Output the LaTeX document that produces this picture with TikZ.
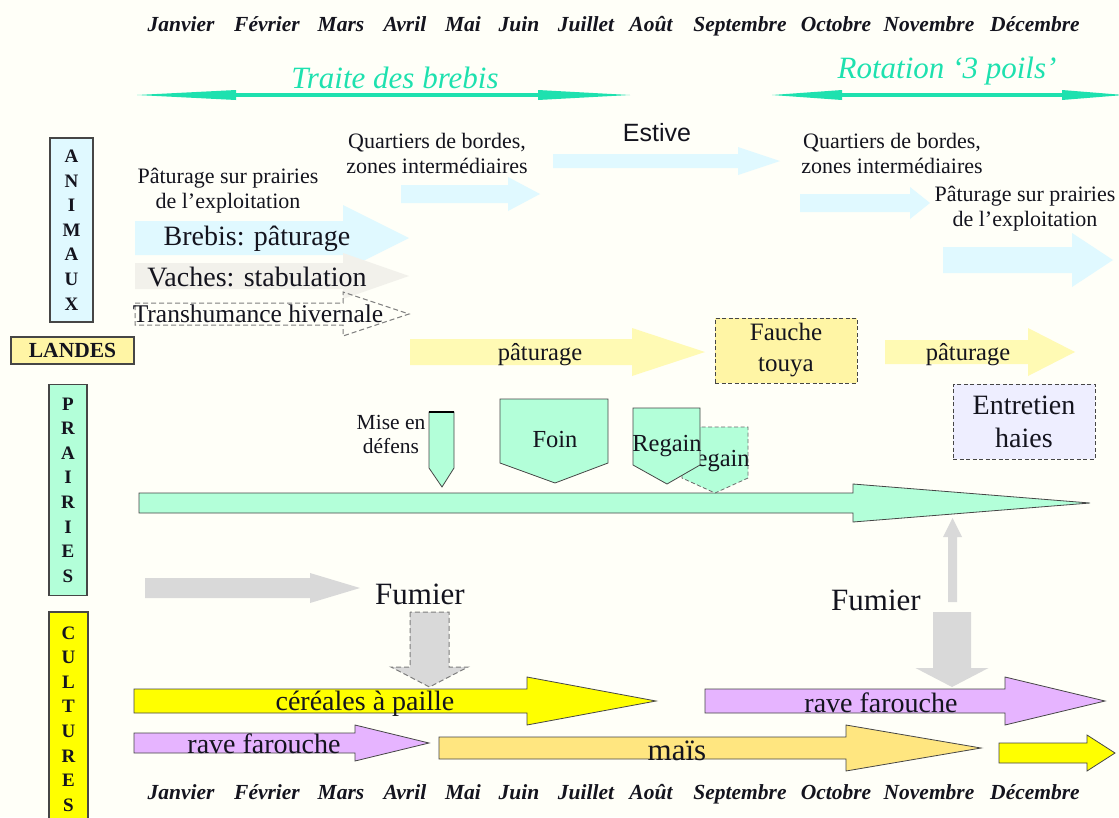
\documentclass[tikz,border=0pt]{standalone}
\usepackage{fontspec}
\setmainfont{Liberation Serif}
\newfontfamily\sansfont{Liberation Sans}
\usetikzlibrary{arrows.meta}

\definecolor{fond}{RGB}{255,255,248}
\definecolor{encre}{RGB}{20,20,30}
\definecolor{turquoise}{RGB}{30,225,175}
\definecolor{cyanpale}{RGB}{224,249,255}
\definecolor{beige}{RGB}{242,241,235}
\definecolor{jaunepale}{RGB}{255,250,180}
\definecolor{jauneboite}{RGB}{255,245,165}
\definecolor{menthe}{RGB}{179,255,217}
\definecolor{lavande}{RGB}{238,238,255}
\definecolor{gris}{RGB}{217,217,217}
\definecolor{jaune}{RGB}{255,255,0}
\definecolor{mauve}{RGB}{230,180,255}
\definecolor{mais}{RGB}{255,230,128}
\definecolor{bord}{RGB}{70,70,70}

% fleche horizontale : style, x depart, x base tete, x pointe, y, demi-corps, demi-tete
\newcommand{\flecheh}[7]{%
  \path[#1] (#2,#5-#6) -- (#3,#5-#6) -- (#3,#5-#7) -- (#4,#5)
    -- (#3,#5+#7) -- (#3,#5+#6) -- (#2,#5+#6) -- cycle;}
% fleche verticale : style, x, y depart, y base tete, y pointe, demi-corps, demi-tete
\newcommand{\flechev}[7]{%
  \path[#1] (#2-#6,#3) -- (#2-#6,#4) -- (#2-#7,#4) -- (#2,#5)
    -- (#2+#7,#4) -- (#2+#6,#4) -- (#2+#6,#3) -- cycle;}
% pentagone : style, gauche, droite, haut, bas des cotes, x pointe, y pointe
\newcommand{\pentagone}[7]{%
  \path[#1] (#2,#4) -- (#3,#4) -- (#3,#5) -- (#6,#7) -- (#2,#5) -- cycle;}

\begin{document}
\begin{tikzpicture}[x=1pt, y=-1pt,
  mois/.style={font=\fontsize{21.5}{25}\selectfont\bfseries\itshape, text=encre, anchor=base},
  titre/.style={font=\fontsize{31}{34}\selectfont\itshape, text=turquoise},
  traitfl/.style={draw=turquoise, line width=3.5pt},
  lettres/.style={draw=bord, line width=1.2pt, align=center, inner sep=0pt,
    font=\fontsize{19}{24.6}\selectfont\bfseries, text=encre},
  petit/.style={font=\fontsize{22}{25}\selectfont, align=center, text=encre},
  moyen/.style={font=\fontsize{24.5}{31}\selectfont, align=center, text=encre},
  gros/.style={font=\fontsize{28}{33}\selectfont, align=center, text=encre},
  boite/.style={draw=bord, line width=1pt, dash pattern=on 4pt off 2.5pt, align=center},
  fcyan/.style={fill=cyanpale},
  fbeige/.style={fill=beige},
  ftirets/.style={draw=bord!70, line width=1pt, dash pattern=on 5pt off 3pt},
  fjaunepale/.style={fill=jaunepale},
  fmenthe/.style={fill=menthe, draw=bord, line width=0.8pt},
  fmenthetirets/.style={fill=menthe, draw=bord!80, line width=0.8pt, dash pattern=on 4pt off 2.5pt},
  fgris/.style={fill=gris},
  fgristirets/.style={fill=gris, draw=bord!70, line width=1pt, dash pattern=on 5pt off 3pt},
  fjaune/.style={fill=jaune, draw=bord, line width=0.8pt},
  fmauve/.style={fill=mauve, draw=bord, line width=0.8pt},
  fmais/.style={fill=mais, draw=bord, line width=0.8pt}]
  \useasboundingbox[fill=fond] (0,0) rectangle (1119,817);

  % mois
  \foreach \m/\x [count=\i] in {Janvier/181, Février/267, Mars/341, Avril/405,
      Mai/463, Juin/519, Juillet/586, Août/651, Septembre/740, Octobre/836,
      Novembre/929, Décembre/1035} {
    \node[mois] (moisH\i) at (\x,31) {\m};
    \node[mois] (moisB\i) at (\x,799) {\m};
  }

  % traite et rotation
  \node[titre] (traite) at (395,78) {Traite des brebis};
  \coordinate (traiteG) at (137,95);
  \coordinate (traiteD) at (630,95);
  \draw[traitfl, {Triangle[length=99pt,width=10pt,line width=0pt]}-{Triangle[length=92pt,width=10pt,line width=0pt]}] (traiteG) -- (traiteD);
  \node[titre] (rotation) at (947,71) {Rotation ‘3 poils’};
  \coordinate (rotationG) at (772,95);
  \coordinate (rotationD) at (1124,95);
  \draw[traitfl, {Triangle[length=70pt,width=10pt,line width=0pt]}-{Triangle[length=62pt,width=10pt,line width=0pt]}] (rotationG) -- (rotationD);

  % etiquettes
  \node[lettres, fill=cyanpale, minimum width=43pt, minimum height=184pt] (animaux) at (71.5,230) {A\\N\\I\\M\\A\\U\\X};
  \node[lettres, fill=jauneboite, minimum width=123pt, minimum height=27pt,
    font=\fontsize{21.5}{24}\selectfont\bfseries] (landes) at (72.5,350.5) {LANDES};
  \node[lettres, fill=menthe, minimum width=38pt, minimum height=211pt] (prairies) at (68,490) {P\\R\\A\\I\\R\\I\\E\\S};
  \node[lettres, fill=jaune, minimum width=39pt, minimum height=214pt] (cultures) at (68.5,719) {C\\U\\L\\T\\U\\R\\E\\S};

  % animaux
  \flecheh{fcyan}{135}{343}{409}{238}{17}{33}
  \flecheh{fbeige}{135}{343}{409}{276}{13}{23}
  \flecheh{ftirets}{135}{343}{409}{314}{11}{22}
  \node[petit] (prairiesG) at (228,191) {Pâturage sur prairies\\de l’exploitation};
  \node[gros] (brebis) at (257,239) {Brebis: pâturage};
  \node[gros] (vaches) at (257,277) {Vaches: stabulation};
  \node[moyen, font=\fontsize{25.5}{30}\selectfont] (transhumance) at (258,314) {Transhumance hivernale};

  \flecheh{fcyan}{401}{508}{540}{194}{9}{17}
  \node[petit] (quartiersG) at (437,153) {Quartiers de bordes,\\zones intermédiaires};
  \flecheh{fcyan}{553}{738}{780}{161}{7}{14}
  \node[font=\fontsize{25}{30}\selectfont\sansfont, text=encre] (estive) at (657,133) {Estive};
  \flecheh{fcyan}{800}{910}{930}{203}{9}{16}
  \node[petit] (quartiersD) at (892,153) {Quartiers de bordes,\\zones intermédiaires};
  \flecheh{fcyan}{943}{1072}{1113}{260}{13}{27}
  \node[petit] (prairiesD) at (1025,209) {Pâturage sur prairies\\de l’exploitation};

  % landes
  \flecheh{fjaunepale}{410}{632}{705}{352}{13}{24}
  \node[moyen] (paturageG) at (540,355) {pâturage};
  \node[boite, moyen, font=\fontsize{25}{31}\selectfont, fill=jauneboite, minimum width=142pt, minimum height=65pt] (fauche) at (786,350.5) {Fauche\\touya};
  \flecheh{fjaunepale}{885}{1028}{1075}{352}{12}{24}
  \node[moyen] (paturageD) at (968,355) {pâturage};

  % prairies
  \node[boite, gros, fill=lavande, minimum width=142pt, minimum height=75pt] (entretien) at (1024,421.5) {Entretien\\haies};
  \flecheh{fmenthe}{139}{853}{1090}{503}{10}{19}
  \pentagone{fmenthe}{429}{454}{412}{468}{442}{487}
  \draw[line width=1.5pt] (429,412) -- (454,412);
  \node[petit, font=\fontsize{21.5}{24}\selectfont] (defens) at (391,434) {Mise en\\défens};
  \pentagone{fmenthe}{500}{608}{399}{463}{555}{483}
  \node[moyen] (foin) at (555,440) {Foin};
  \pentagone{fmenthetirets}{682}{748}{427}{478}{715}{493}
  \node[moyen] (regainB) at (715,461) {Regain};
  \pentagone{fmenthe}{633}{700}{408}{465}{667}{484}
  \node[moyen] (regainA) at (667,446) {Regain};

  % fumier
  \flecheh{fgris}{145}{310}{360}{588}{10}{15}
  \node[gros, font=\fontsize{31}{34}\selectfont] (fumierG) at (420,594) {Fumier};
  \flechev{fgristirets}{429.5}{612}{667}{687}{19.5}{38.5}
  \node[gros, font=\fontsize{31}{34}\selectfont] (fumierD) at (876,600) {Fumier};
  \flechev{fgris}{952.5}{602}{537}{518}{4.5}{9.5}
  \flechev{fgris}{952}{612}{668}{687}{19}{36.5}

  % cultures
  \flecheh{fjaune}{134}{527}{656}{701}{12}{24}
  \node[gros] (cereales) at (365,704) {céréales à paille};
  \flecheh{fmauve}{705}{1005}{1105}{701}{12}{24}
  \node[gros] (raveD) at (881,703) {rave farouche};
  \flecheh{fmauve}{134}{355}{429}{743}{10}{18}
  \node[gros] (raveG) at (264,744) {rave farouche};
  \flecheh{fmais}{439}{846}{981}{748}{11}{23}
  \node[gros, font=\fontsize{31}{34}\selectfont] (mais) at (677,751) {maïs};
  \flecheh{fjaune}{999}{1087}{1115}{753}{10}{18}
\end{tikzpicture}
\end{document}
